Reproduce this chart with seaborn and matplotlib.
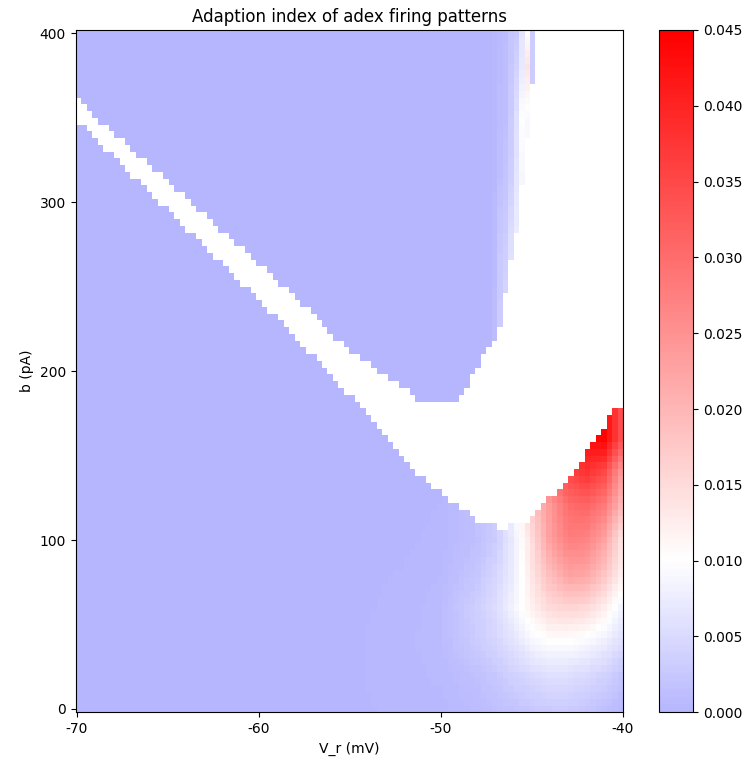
import numpy as np
import pandas as pd
import matplotlib
matplotlib.use("Agg")
import matplotlib.pyplot as plt
import seaborn as sns
from matplotlib.colors import ListedColormap

# ---------------- data ----------------
# grid
vr_left, vr_step, n_vr = -70.05, 0.3007, 100
b_values = np.arange(0, 401, 4)

# lower edge of the white (no-data) band / region, (V_r, b)
lower_edge_vr = [-70.0, -67.19, -59.97, -58.99, -57.79, -56.86, -55.6, -54.24, -52.98,
                 -51.78, -50.25, -49.6, -49.0, -48.5, -47.9, -47.0, -46.95, -46.35,
                 -46.3, -45.2, -44.6, -44.3, -43.7, -43.4, -43.0, -42.8, -42.4, -42.1,
                 -41.8, -41.6, -41.2, -41.0, -40.6, -40.0]
lower_edge_b = [348.5, 319.0, 242.0, 232.0, 216.6, 208.3, 192.9, 176.9, 160.4,
                144.4, 130.8, 123.7, 119.5, 116.0, 110.7, 110.7, 106.0, 106.0,
                110.7, 110.7, 119.5, 123.7, 127.8, 131.4, 135.5, 140.2, 144.4, 148.5,
                155.0, 159.8, 163.9, 168.6, 175.7, 181.0]

# upper edge of the white band / region, (V_r, b)
upper_edge_vr = [-70.0, -68.9, -67.2, -66.0, -57.77, -56.86, -56.26, -55.06, -53.85,
                 -53.03, -52.43, -51.78, -51.12, -49.4, -48.7, -47.8, -47.5, -46.8,
                 -46.5, -46.2, -45.98, -45.70, -45.69, -45.43, -45.42, -45.16, -45.15,
                 -44.84, -44.83, -40.0]
upper_edge_b = [362.0, 349.7, 333.7, 322.0, 242.0, 232.0, 224.3, 212.4, 203.6,
                196.4, 192.9, 188.8, 180.5, 180.5, 188.8, 204.7, 212.0, 222.0,
                240.0, 262.0, 283.0, 283.0, 309.0, 309.0, 338.0, 338.0, 370.0,
                370.0, 1000.0, 1000.0]

# adaption index below the white region (values x 1e-3)
low_vr = [-56, -52, -50, -48, -47, -46, -45, -44, -43, -42, -41, -40]
low_b = [0, 20, 40, 60, 80, 100, 120, 140, 160, 180]
low_b0 = [0, 0.3, 0.4, 1.0, 1.5, 2.0, 2.5, 3.0, 3.0, 2.5, 1.5, 0.5]
low_b20 = [0, 0.4, 0.6, 1.6, 2.5, 3.8, 5.0, 5.8, 5.7, 5.0, 4.0, 2.2]
low_b40 = [0, 0.4, 0.8, 3.0, 4.4, 6.3, 8.8, 10.0, 10.0, 9.2, 7.8, 5.5]
low_b60 = [0, 0.3, 0.8, 3.5, 5.2, 8.5, 12.0, 15.2, 16.0, 15.3, 12.5, 8.0]
low_b80 = [0, 0.2, 0.5, 2.2, 4.5, 7.5, 13.5, 19.2, 23.0, 22.5, 18.0, 12.0]
low_b100 = [0, 0.1, 0.3, 1.5, 3.0, 7.5, 14.5, 23.0, 27.5, 27.0, 22.5, 13.0]
low_b120 = [0, 0.0, 0.2, 1.5, 3.5, 8.5, 17.0, 24.0, 30.0, 31.0, 28.0, 19.0]
low_b140 = [0, 0.0, 0.0, 1.5, 4.0, 10.0, 20.0, 28.0, 35.0, 38.0, 35.0, 23.0]
low_b160 = [0, 0.0, 0.0, 1.5, 4.0, 10.0, 22.0, 32.0, 39.0, 43.0, 44.5, 33.0]
low_b180 = [0, 0.0, 0.0, 1.5, 4.0, 10.0, 24.0, 36.0, 42.0, 45.0, 45.0, 33.0]

# adaption index in the columns next to the upper-right white region (x 1e-3)
up_b = [200, 240, 280, 320, 350, 380, 400]
up_vr = [-47.0, -46.7, -46.4, -46.1, -45.8, -45.5, -45.2, -44.94]
up_c0 = [1.0, 0.9, 0.8, 0.4, 0.2, 0.2, 0.2]
up_c1 = [3.0, 3.0, 2.5, 1.2, 1.0, 0.8, 0.6]
up_c2 = [5.0, 4.5, 3.0, 2.0, 1.3, 1.2, 1.0]
up_c3 = [6.0, 6.0, 5.5, 3.2, 3.0, 2.5, 2.3]
up_c4 = [7.0, 7.0, 7.5, 6.5, 5.8, 4.0, 2.5]
up_c5 = [8.0, 8.0, 8.0, 9.0, 10.0, 7.0, 6.5]
up_c6 = [9.0, 9.0, 9.0, 9.0, 9.0, 14.0, 10.5]
up_c7 = [3.0, 3.0, 3.0, 3.0, 3.0, 3.0, 3.0]

x_ticks = [-70, -60, -50, -40]
y_ticks = [0, 100, 200, 300, 400]
cbar_ticks = [0.000, 0.005, 0.010, 0.015, 0.020, 0.025, 0.030, 0.035, 0.040, 0.045]

# ---------------- build the grid ----------------
vr_c = vr_left + vr_step * (np.arange(n_vr) + 0.5)
low_tab = np.array([low_b0, low_b20, low_b40, low_b60, low_b80, low_b100,
                    low_b120, low_b140, low_b160, low_b180]) * 1e-3
tmp = np.column_stack([np.interp(b_values, low_b, low_tab[:, k]) for k in range(len(low_vr))])
z_low = np.array([np.interp(vr_c, low_vr, row) for row in tmp])

z_up = np.zeros((len(b_values), n_vr))
for v, col in zip(up_vr, [up_c0, up_c1, up_c2, up_c3, up_c4, up_c5, up_c6, up_c7]):
    j = int(np.argmin(np.abs(vr_c - v)))
    z_up[:, j] = np.interp(b_values, up_b, np.array(col) * 1e-3)

lb = np.interp(vr_c, lower_edge_vr, lower_edge_b)[None, :]
ub = np.interp(vr_c, upper_edge_vr, upper_edge_b)[None, :]
bb = b_values[:, None]
Z = np.where(bb < lb, z_low, np.where(bb > ub, z_up, np.nan))

df = pd.DataFrame(Z[::-1], index=b_values[::-1], columns=np.round(vr_c, 3))

# ---------------- plot ----------------
cmap = ListedColormap(plt.cm.bwr(np.linspace(0.357, 1.0, 256)))

fig = plt.figure(figsize=(7.49, 7.6), dpi=100)
ax = fig.add_axes([0.1011, 0.0628, 0.7307, 0.8978])
cax = fig.add_axes([0.8798, 0.0628, 0.0454, 0.8978])

sns.heatmap(df, ax=ax, cbar_ax=cax, cmap=cmap, vmin=0.0, vmax=0.045,
            xticklabels=False, yticklabels=False,
            cbar_kws={"ticks": cbar_ticks, "format": "%.3f"})

n_b = len(b_values)
ax.set_xticks([(t - vr_left) / vr_step for t in x_ticks])
ax.set_xticklabels([str(t) for t in x_ticks], rotation=0)
ax.set_yticks([(b_values[-1] + 2 - t) / 4.0 for t in y_ticks])
ax.set_yticklabels([str(t) for t in y_ticks], rotation=0)
ax.tick_params(axis="both", which="both", length=3.5, width=0.8, labelsize=10,
               bottom=True, left=True)
for s in ax.spines.values():
    s.set_visible(True)
    s.set_linewidth(0.8)
    s.set_color("black")

ax.set_title("Adaption index of adex firing patterns", fontsize=12)
ax.set_xlabel("V_r (mV)", fontsize=10)
ax.set_ylabel("b (pA)", fontsize=10)

cb = ax.collections[0].colorbar
cb.outline.set_visible(True)
cb.outline.set_linewidth(0.8)
cb.outline.set_edgecolor("black")
cax.tick_params(labelsize=10, length=3.5, width=0.8)

fig.savefig("out.png", dpi=100)
